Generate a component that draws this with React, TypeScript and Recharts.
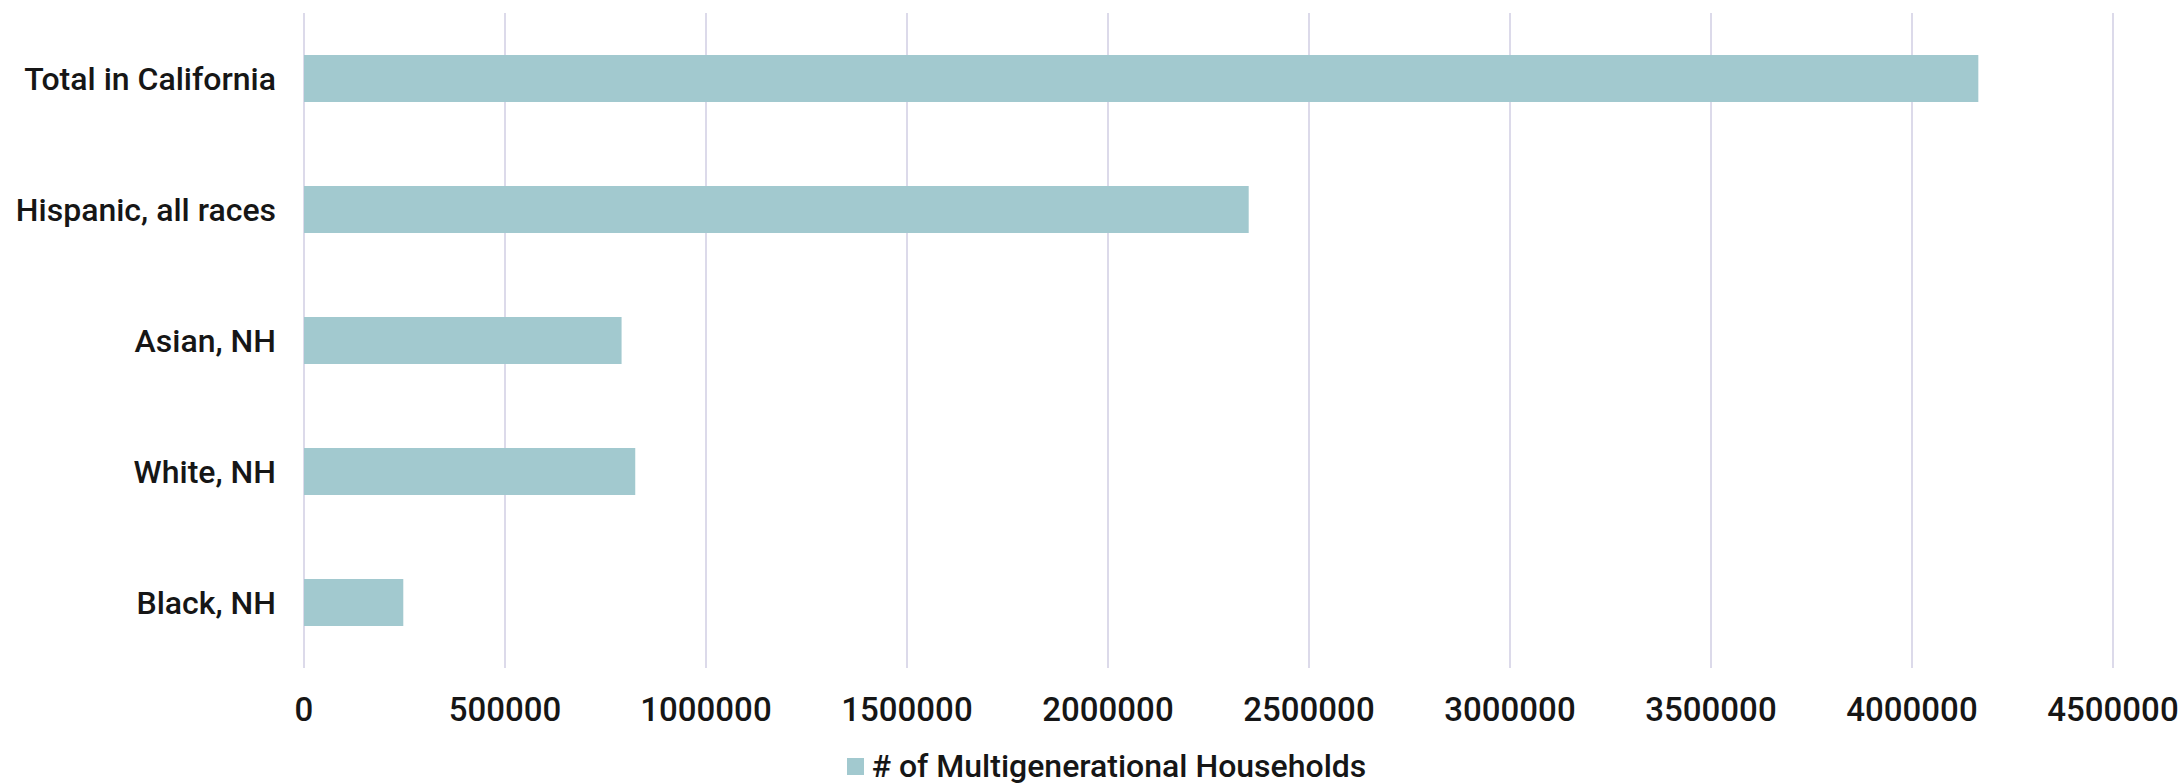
import { BarChart, Bar, XAxis, YAxis, CartesianGrid, Legend } from 'recharts';

const categories = ['Total in California', 'Hispanic, all races', 'Asian, NH', 'White, NH', 'Black, NH'];
const households = [4165000, 2350000, 790000, 824000, 247000];
const xTicks = [0, 500000, 1000000, 1500000, 2000000, 2500000, 3000000, 3500000, 4000000, 4500000];

const seriesName = '# of Multigenerational Households';
const barColor = '#A2C9CF';
const gridColor = '#DCDAEA';
const textColor = '#161616';

const data = categories.map((c, i) => ({ name: c, value: households[i] }));

function LegendContent({ payload }: any) {
  return (
    <div style={{ display: 'flex', justifyContent: 'center', alignItems: 'center', height: 36, paddingLeft: 100 }}>
      {(payload || []).map((p: any) => (
        <div key={p.value} style={{ display: 'flex', alignItems: 'center' }}>
          <span style={{ width: 17, height: 17, background: p.color, display: 'inline-block', marginRight: 8 }} />
          <span style={{ fontSize: 32, fontWeight: 500, color: textColor, fontFamily: 'Roboto' }}>{p.value}</span>
        </div>
      ))}
    </div>
  );
}

export default function App() {
  return (
    <div style={{ position: 'absolute', left: 0, top: 0, background: '#fff' }}>
      <BarChart
        width={2180}
        height={784}
        data={data}
        layout="vertical"
        barCategoryGap="32%"
        margin={{ top: 13, right: 67, bottom: 0, left: 0 }}
        style={{ fontFamily: 'Roboto' }}
      >
        <CartesianGrid horizontal={false} stroke={gridColor} strokeWidth={2} />
        <XAxis
          type="number"
          domain={[0, 4500000]}
          ticks={xTicks}
          interval={0}
          axisLine={false}
          tickLine={false}
          tickSize={0}
          tickMargin={30}
          height={80}
          tick={{ fill: textColor, fontSize: 33, fontWeight: 500 }}
        />
        <YAxis
          type="category"
          dataKey="name"
          width={304}
          axisLine={false}
          tickLine={false}
          tickSize={0}
          tickMargin={28}
          tick={{ fill: textColor, fontSize: 32, fontWeight: 500 }}
        />
        <Legend verticalAlign="bottom" content={<LegendContent />} />
        <Bar dataKey="value" name={seriesName} fill={barColor} isAnimationActive={false} />
      </BarChart>
    </div>
  );
}
